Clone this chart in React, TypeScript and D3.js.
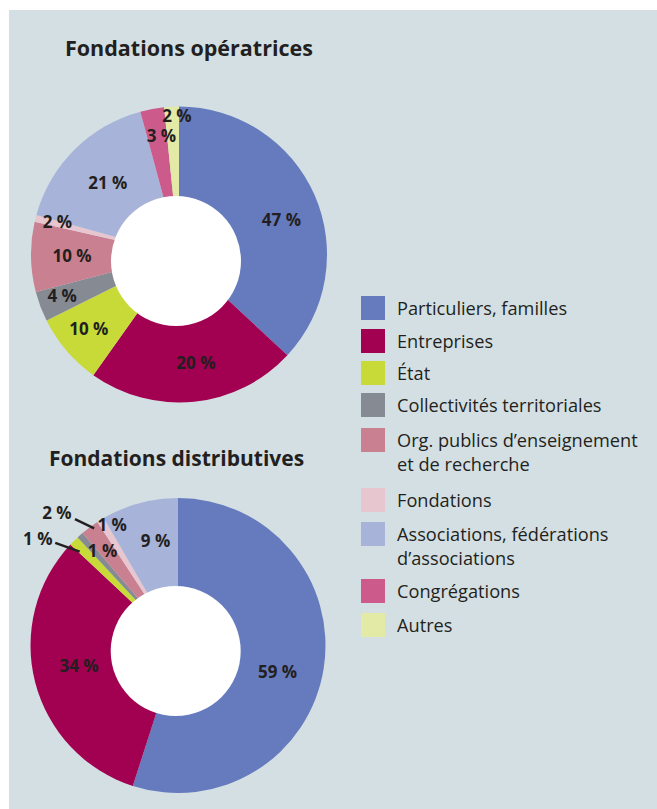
import React from "react";
import * as d3 from "d3";

// categories (legend order = slice order, clockwise from 12 o'clock)
const categories = [
  "Particuliers, familles",
  "Entreprises",
  "État",
  "Collectivités territoriales",
  "Org. publics d’enseignement et de recherche",
  "Fondations",
  "Associations, fédérations d’associations",
  "Congrégations",
  "Autres",
];
const legendLines = [
  ["Particuliers, familles"],
  ["Entreprises"],
  ["État"],
  ["Collectivités territoriales"],
  ["Org. publics d’enseignement", "et de recherche"],
  ["Fondations"],
  ["Associations, fédérations", "d’associations"],
  ["Congrégations"],
  ["Autres"],
];
const colors = [
  "#657bbd",
  "#a20050",
  "#c8da37",
  "#868a93",
  "#c98090",
  "#e8c6d0",
  "#a8b3d9",
  "#cc5a8a",
  "#e2eaa5",
];

const operatricesShares = [36.9, 22.9, 7.8, 3.3, 7.6, 0.75, 16.5, 2.6, 1.6];
// printed labels
const operatricesLabels = ["47 %", "20 %", "10 %", "4 %", "10 %", "2 %", "21 %", "3 %", "2 %"];

const distributivesShares = [54.9, 32, 1.1, 0.7, 2, 0.8, 8.4];
const distributivesLabels = ["59 %", "34 %", "1 %", "1 %", "2 %", "1 %", "9 %"];

const titles = ["Fondations opératrices", "Fondations distributives"];

// label placement: radius and angle shift (deg) from slice middle; leader = [r1, a1, r2, a2]
type LabelPos = { r: number; da: number; leader?: [number, number, number, number]; at?: [number, number] };
const operatricesLabelPos: LabelPos[] = [
  { r: 108, da: 5 },
  { r: 110, da: -3 },
  { r: 117, da: 1 },
  { r: 124, da: 1 },
  { r: 107, da: 0 },
  { r: 126, da: 1 },
  { r: 101, da: 0 },
  { r: 120, da: 2 },
  { r: 139, da: 2 },
];
const distributivesLabelPos: LabelPos[] = [
  { r: 103, da: 6 },
  { r: 101, da: 3 },
  { r: 0, da: 0, at: [176, 307.2], leader: [136, 313.7, 160, 309.9] },
  { r: 121, da: 3 },
  { r: 0, da: 0, at: [180, 317.7], leader: [144, 324.4, 163, 320.8] },
  { r: 137, da: 3 },
  { r: 107, da: 3 },
];

const W = 657;
const H = 809;
const FONT = "'Open Sans', sans-serif";
const TEXT = "#231f20";

const polar = (r: number, deg: number): [number, number] => {
  const a = (deg * Math.PI) / 180;
  return [r * Math.sin(a), -r * Math.cos(a)];
};

const Donut = ({
  cx,
  cy,
  r,
  hole,
  shares,
  labels,
  pos,
}: {
  cx: number;
  cy: number;
  r: number;
  hole: [number, number, number];
  shares: number[];
  labels: string[];
  pos: LabelPos[];
}) => {
  const pie = d3.pie<number>().sort(null).value((d) => d);
  const arcs = pie(shares);
  const arc = d3.arc<d3.PieArcDatum<number>>().innerRadius(0).outerRadius(r);
  return (
    <g transform={`translate(${cx},${cy})`}>
      {arcs.map((a, i) => (
        <path key={i} d={arc(a) || ""} fill={colors[i]} />
      ))}
      <circle cx={hole[0]} cy={hole[1]} r={hole[2]} fill="#fff" />
      {arcs.map((a, i) => {
        const p = pos[i];
        const mid = (((a.startAngle + a.endAngle) / 2) * 180) / Math.PI;
        const [x, y] = p.at ? polar(p.at[0], p.at[1]) : polar(p.r, mid + p.da);
        return (
          <g key={i}>
            {p.leader && (
              <line
                x1={polar(p.leader[0], p.leader[1])[0]}
                y1={polar(p.leader[0], p.leader[1])[1]}
                x2={polar(p.leader[2], p.leader[3])[0]}
                y2={polar(p.leader[2], p.leader[3])[1]}
                stroke={TEXT}
                strokeWidth={2.4}
              />
            )}
            <text
              x={x}
              y={y}
              dy="0.36em"
              textAnchor="middle"
              fontFamily={FONT}
              fontWeight={700}
              fontSize={17}
              fill={TEXT}
            >
              {labels[i]}
            </text>
          </g>
        );
      })}
    </g>
  );
};

export default function App() {
  const legendTops = [296, 329, 361, 393, 428, 488, 522, 579, 613];
  return (
    <svg
      width={W}
      height={H}
      style={{ position: "absolute", left: 0, top: 0, background: "#fff" }}
    >
      <rect x={9} y={10} width={W - 9} height={H - 10} fill="#d4dfe3" />
      <text x={65} y={56} fontFamily={FONT} fontWeight={700} fontSize={21.5} fill={TEXT}>
        {titles[0]}
      </text>
      <text x={49} y={466} fontFamily={FONT} fontWeight={700} fontSize={21} fill={TEXT}>
        {titles[1]}
      </text>
      <Donut
        cx={179}
        cy={254.5}
        r={148}
        hole={[-3, 6.5, 65]}
        shares={operatricesShares}
        labels={operatricesLabels}
        pos={operatricesLabelPos}
      />
      <Donut
        cx={178}
        cy={645.5}
        r={147.5}
        hole={[-2.3, 5.5, 65]}
        shares={distributivesShares}
        labels={distributivesLabels}
        pos={distributivesLabelPos}
      />
      <g>
        {categories.map((c, i) => (
          <g key={c} transform={`translate(361,${legendTops[i]})`}>
            <rect width={24} height={24} fill={colors[i]} />
            <text x={36} y={19} fontFamily={FONT} fontSize={18.2} fill={TEXT}>
              {legendLines[i].map((l, j) => (
                <tspan key={j} x={36} dy={j === 0 ? 0 : 23.6}>
                  {l}
                </tspan>
              ))}
            </text>
          </g>
        ))}
      </g>
    </svg>
  );
}
